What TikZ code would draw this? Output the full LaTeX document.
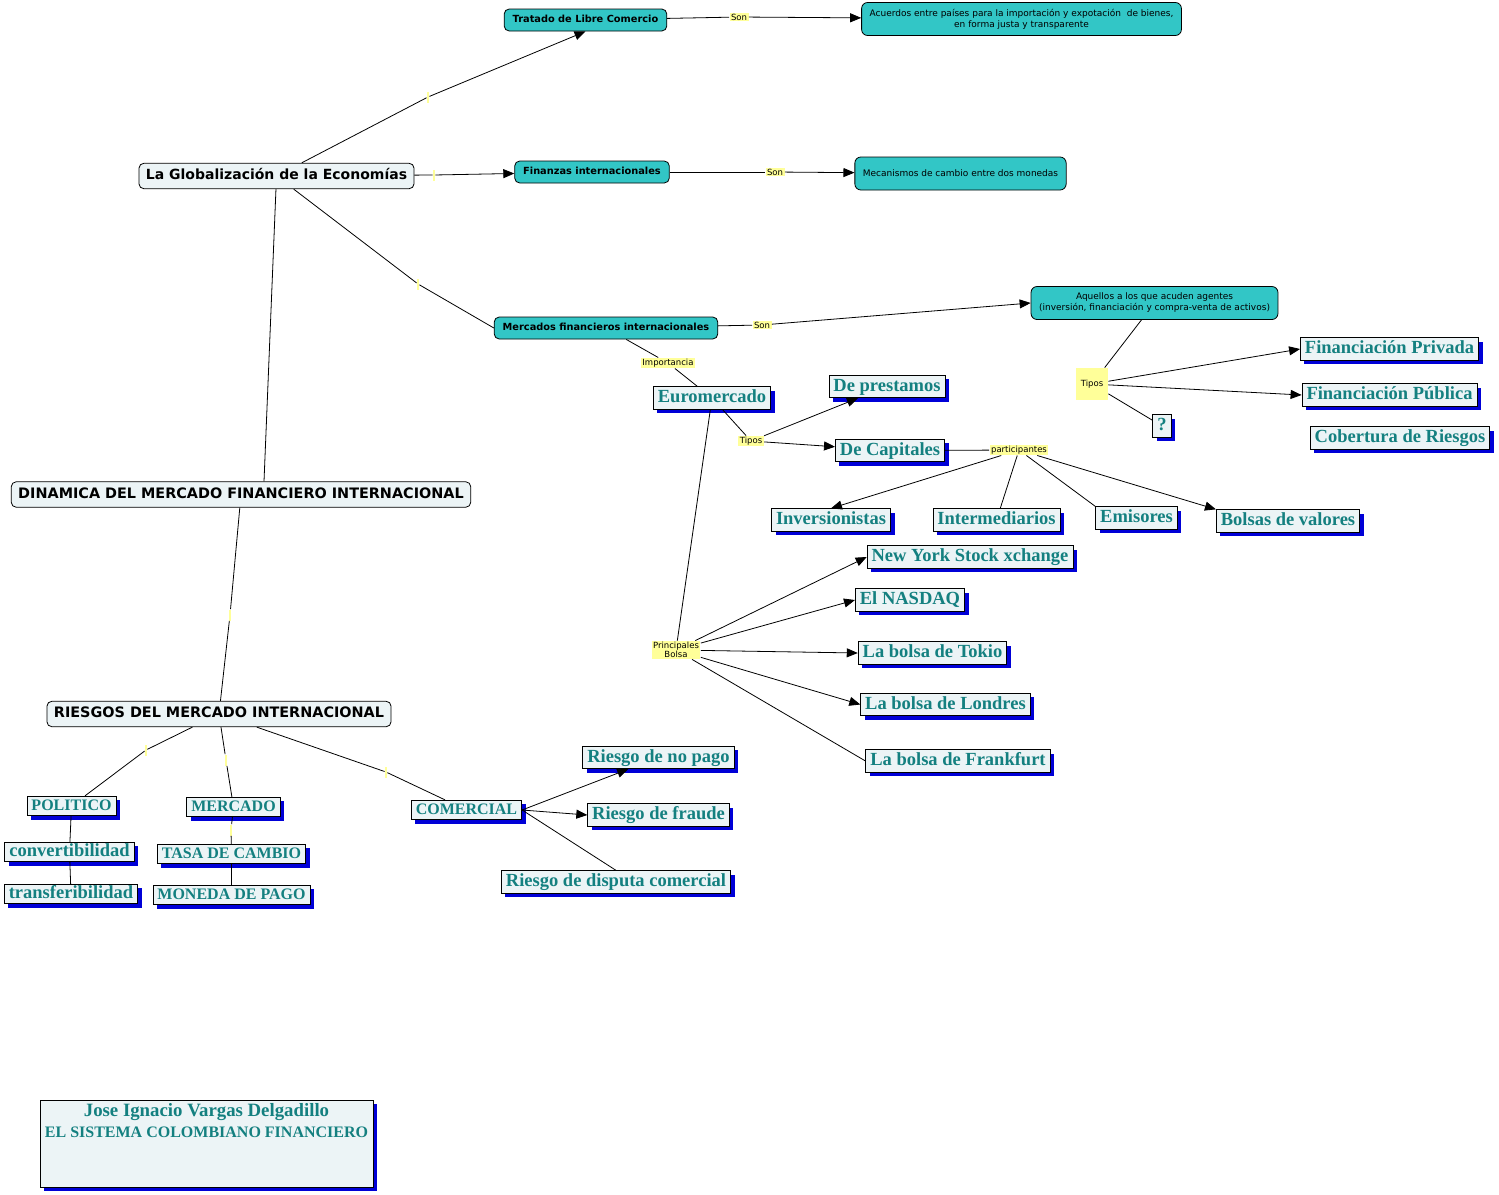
\documentclass[tikz,border=0pt]{standalone}
\usepackage{fontspec}
\setmainfont{Liberation Serif}
\newfontfamily\vfont{DejaVu Sans}
\usetikzlibrary{arrows.meta,shadows}
\definecolor{paleblue}{RGB}{236,244,246}
\definecolor{tealfill}{RGB}{50,198,198}
\definecolor{tealtext}{RGB}{20,128,128}
\definecolor{shadowblue}{RGB}{0,0,215}
\definecolor{linkyellow}{RGB}{255,255,153}

\begin{document}
\begin{tikzpicture}[x=1pt,y=-1pt,line width=0.8pt,
  mainbox/.style={draw, rounded corners=5pt, fill=paleblue, font=\vfont\bfseries\fontsize{14}{16}\selectfont, inner xsep=7pt, inner ysep=6.5pt, text height=10pt, text depth=2.5pt},
  capsmain/.style={mainbox, font=\vfont\bfseries\fontsize{14.4}{16}\selectfont},
  tealbox/.style={draw, rounded corners=5pt, fill=tealfill, font=\vfont\bfseries\fontsize{9.8}{11}\selectfont, inner xsep=8.5pt, inner ysep=6.5pt, text height=7pt, text depth=2pt},
  notebox/.style={draw, rounded corners=6pt, fill=tealfill, font=\vfont\fontsize{9}{11}\selectfont, align=center, inner xsep=8pt, inner ysep=4pt, minimum height=33pt},
  linkbox/.style={fill=linkyellow, font=\vfont\fontsize{8.5}{10}\selectfont, inner xsep=1.5pt, inner ysep=1pt},
  nolink/.style={fill=linkyellow, minimum width=2pt, minimum height=11pt, inner sep=0pt},
  shadowbox/.style={draw, fill=paleblue, text=tealtext, font=\bfseries\fontsize{18.5}{21}\selectfont, inner xsep=4.5pt, inner ysep=3pt, general shadow={fill=shadowblue, shadow xshift=4pt, shadow yshift=-4pt}},
  conbox/.style={shadowbox, text height=13pt, text depth=3.5pt},
  capsbox/.style={conbox, font=\bfseries\fontsize{16}{19}\selectfont, text height=11.5pt, text depth=2pt},
  arr/.style={-{Triangle[length=11pt,width=9pt]}}]
\useasboundingbox (0,0) rectangle (1499,1194);

\node[mainbox] (glob) at (276.5,176) {La Globalización de la Economías};
\node[capsmain] (dinamica) at (241,494.5) {DINAMICA DEL MERCADO FINANCIERO INTERNACIONAL};
\node[capsmain] (riesgos) at (219,714) {RIESGOS DEL MERCADO INTERNACIONAL};

\node[tealbox] (tratado) at (585.5,20) {Tratado de Libre Comercio};
\node[tealbox] (finanzas) at (592,172) {Finanzas internacionales};
\node[tealbox] (mercados) at (606,328) {Mercados financieros internacionales};
\node[notebox] (acuerdos) at (1021.5,19) {Acuerdos entre países para la importación y expotación \ de bienes,\\en forma justa y transparente};
\node[notebox] (mecanismos) at (960.5,173.5) {Mecanismos de cambio entre dos monedas};
\node[notebox] (aquellos) at (1154.5,303) {Aquellos a los que acuden agentes\\(inversión, financiación y compra-venta de activos)};

\node[linkbox] (son1) at (739,17) {Son};
\node[linkbox] (son2) at (775,172) {Son};
\node[linkbox] (son3) at (762,325) {Son};
\node[linkbox] (importancia) at (668,363) {Importancia};
\node[linkbox] (tipos1) at (751,441) {Tipos};
\node[linkbox] (particip) at (1019,450) {participantes};
\node[linkbox, minimum size=32pt] (tipos2) at (1092,384) {Tipos};
\node[linkbox, align=center, font=\vfont\fontsize{8.5}{9.5}\selectfont] (princip) at (676,650) {Principales\\Bolsa};

\node[nolink] (e1) at (428,97) {};
\node[nolink] (e2) at (434,175) {};
\node[nolink] (e3) at (418,284) {};
\node[nolink] (e4) at (230,615) {};
\node[nolink] (e5) at (146,750) {};
\node[nolink] (e6) at (226,760) {};
\node[nolink] (e7) at (386,772) {};
\node[nolink] (e8) at (231,830) {};

\node[conbox] (euro) at (712,398) {Euromercado};
\node[conbox] (prestamos) at (887,386.5) {De prestamos};
\node[conbox] (capitales) at (890,450.5) {De Capitales};
\node[conbox] (inversion) at (831,520) {Inversionistas};
\node[conbox] (intermed) at (996.5,520) {Intermediarios};
\node[conbox] (emisores) at (1136.5,518) {Emisores};
\node[conbox] (bolsas) at (1288,521) {Bolsas de valores};
\node[conbox] (privada) at (1389.5,349) {Financiación Privada};
\node[conbox] (publica) at (1389.5,395) {Financiación Pública};
\node[conbox] (cobertura) at (1400,438) {Cobertura de Riesgos};
\node[conbox] (pregunta) at (1162,426) {?};
\node[conbox] (nyse) at (970,557) {New York Stock xchange};
\node[conbox] (nasdaq) at (910,600) {El NASDAQ};
\node[conbox] (tokio) at (932.5,653) {La bolsa de Tokio};
\node[conbox] (londres) at (945.5,704.5) {La bolsa de Londres};
\node[conbox] (frankfurt) at (958,761) {La bolsa de Frankfurt};

\node[capsbox] (politico) at (71.5,806) {POLITICO};
\node[capsbox] (mercado) at (233.5,807) {MERCADO};
\node[capsbox] (comercial) at (466.5,810) {COMERCIAL};
\node[conbox, text height=12pt, inner ysep=2pt] (convert) at (69.5,852) {convertibilidad};
\node[conbox, text height=12pt, inner ysep=2pt] (transfer) at (71,894) {transferibilidad};
\node[capsbox] (tasa) at (231.5,854) {TASA DE CAMBIO};
\node[capsbox] (moneda) at (231.5,895) {MONEDA DE PAGO};
\node[conbox] (nopago) at (658.5,757.5) {Riesgo de no pago};
\node[conbox] (fraude) at (658.5,815) {Riesgo de fraude};
\node[conbox] (disputa) at (616,882) {Riesgo de disputa comercial};

\node[shadowbox, inner xsep=0pt, inner ysep=3.5pt] (autor) at (206.5,1143.5) {\parbox[c][80pt][t]{333pt}{\centering\fontsize{18.8}{21}\selectfont Jose Ignacio Vargas Delgadillo\\\fontsize{16}{21}\selectfont EL SISTEMA COLOMBIANO FINANCIERO}};

\draw (glob) -- (e1); \draw[arr] (e1) -- (tratado.south);
\draw (glob) -- (e2); \draw[arr] (e2) -- (finanzas);
\draw (glob) -- (e3); \draw (e3) -- (mercados.west);
\draw (glob) -- ([xshift=23pt]dinamica.north);
\draw (dinamica) -- (e4) -- (riesgos);

\draw (tratado) -- (son1); \draw[arr] (son1) -- (acuerdos);
\draw (finanzas) -- (son2); \draw[arr] (son2) -- (mecanismos);
\draw (mercados) -- (son3); \draw[arr] (son3) -- (aquellos.west);
\draw (mercados) -- (importancia) -- (euro);

\draw (euro) -- (tipos1);
\draw[arr] (tipos1) -- (prestamos);
\draw[arr] (tipos1) -- (capitales);
\draw (capitales) -- (particip);
\draw[arr] (particip) -- (inversion.north);
\draw (particip) -- (intermed);
\draw (particip) -- (emisores.north west);
\draw[arr] (particip) -- (bolsas.north west);

\draw (aquellos) -- (tipos2);
\draw[arr] (tipos2) -- (privada.west);
\draw[arr] (tipos2) -- (publica.west);
\draw (tipos2) -- (pregunta);

\draw (euro) -- (princip);
\draw[arr] (princip) -- (nyse.west);
\draw[arr] (princip) -- (nasdaq.west);
\draw[arr] (princip) -- (tokio.west);
\draw[arr] (princip) -- (londres.west);
\draw (princip) -- (frankfurt.west);

\draw (riesgos) -- (e5) -- (politico);
\draw (riesgos) -- (e6) -- (mercado);
\draw (riesgos) -- (e7) -- (comercial);
\draw (politico) -- (convert) -- (transfer);
\draw (mercado) -- (e8) -- (tasa);
\draw (tasa) -- (moneda);
\draw[arr] (comercial.east) -- (nopago);
\draw[arr] (comercial.east) -- (fraude.west);
\draw (comercial.east) -- (disputa.north);
\end{tikzpicture}
\end{document}
